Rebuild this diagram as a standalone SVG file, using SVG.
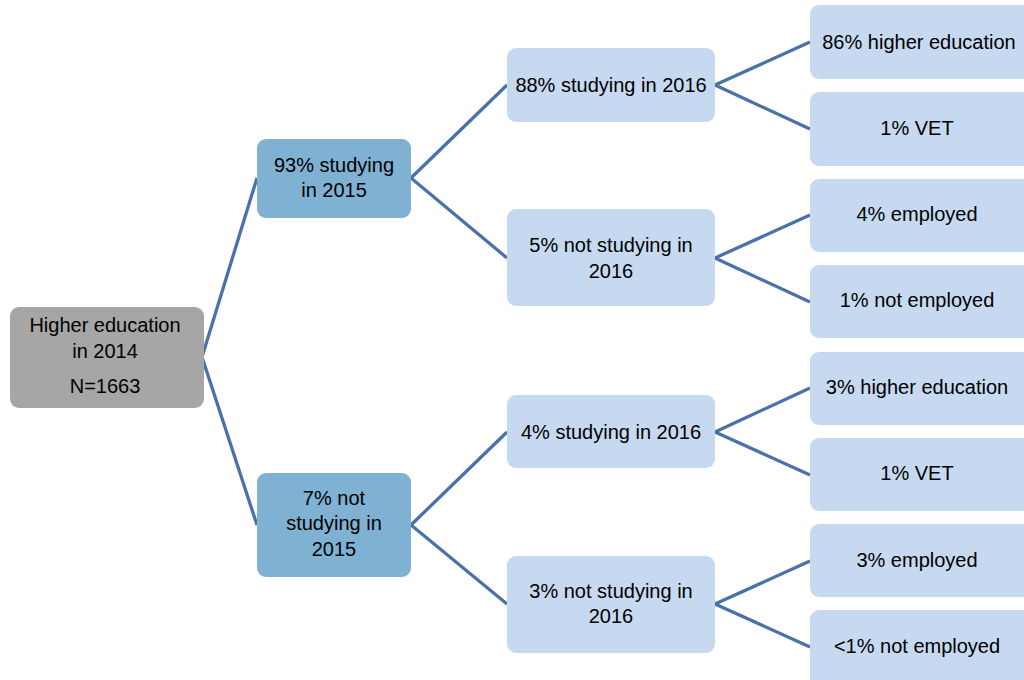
<svg xmlns="http://www.w3.org/2000/svg" width="1024" height="680" viewBox="0 0 1024 680">
<style>
text{font-family:"Liberation Sans",Arial,sans-serif;font-size:20px;fill:#000;text-anchor:middle}
.root{fill:#A6A6A6}
.l1{fill:#7FB1D3}
.l2{fill:#C6D9F1}
.conn{stroke:#4A72A9;stroke-width:3.3;fill:none;stroke-linejoin:miter}
</style>
<rect width="1024" height="680" fill="#fff"/>
<g id="connectors" class="conn">
<polyline points="257,178 202,357 257,525"/>
<polyline points="507,85 411,178 507,258"/>
<polyline points="507,432 411,525 507,604"/>
<polyline points="810,42 715,85 810,129"/>
<polyline points="810,215 715,258 810,302"/>
<polyline points="810,388 715,432 810,475"/>
<polyline points="810,561 715,604 810,647"/>
</g>
<g id="root"><rect class="root" x="10" y="307" width="194" height="101" rx="9"/>
<text x="105" y="332">Higher education</text><text x="105" y="358">in 2014</text><text x="105" y="393">N=1663</text></g>
<g id="s2015"><rect class="l1" x="257" y="139" width="154" height="79" rx="9"/>
<text x="334" y="172">93% studying</text><text x="334" y="197">in 2015</text></g>
<g id="ns2015"><rect class="l1" x="257" y="473" width="154" height="104" rx="9"/>
<text x="334" y="505">7% not</text><text x="334" y="530">studying in</text><text x="334" y="556">2015</text></g>
<g id="a"><rect class="l2" x="507" y="48" width="208" height="74" rx="9"/><text x="611" y="92">88% studying in 2016</text></g>
<g id="b"><rect class="l2" x="507" y="209" width="208" height="97" rx="9"/><text x="611" y="252">5% not studying in</text><text x="611" y="278">2016</text></g>
<g id="c"><rect class="l2" x="507" y="395" width="208" height="73" rx="9"/><text x="611" y="439">4% studying in 2016</text></g>
<g id="d"><rect class="l2" x="507" y="556" width="208" height="97" rx="9"/><text x="611" y="598">3% not studying in</text><text x="611" y="623">2016</text></g>
<g id="e1"><rect class="l2" x="810" y="5" width="224" height="74" rx="9"/><text x="919" y="49">86% higher education</text></g>
<g id="e2"><rect class="l2" x="810" y="92" width="224" height="74" rx="9"/><text x="917" y="135">1% VET</text></g>
<g id="e3"><rect class="l2" x="810" y="179" width="224" height="73" rx="9"/><text x="917" y="221">4% employed</text></g>
<g id="e4"><rect class="l2" x="810" y="265" width="224" height="73" rx="9"/><text x="917" y="307">1% not employed</text></g>
<g id="e5"><rect class="l2" x="810" y="352" width="224" height="73" rx="9"/><text x="917" y="394">3% higher education</text></g>
<g id="e6"><rect class="l2" x="810" y="438" width="224" height="73" rx="9"/><text x="917" y="480">1% VET</text></g>
<g id="e7"><rect class="l2" x="810" y="524" width="224" height="73" rx="9"/><text x="917" y="567">3% employed</text></g>
<g id="e8"><rect class="l2" x="810" y="610" width="224" height="80" rx="9"/><text x="917" y="653">&lt;1% not employed</text></g>
</svg>
